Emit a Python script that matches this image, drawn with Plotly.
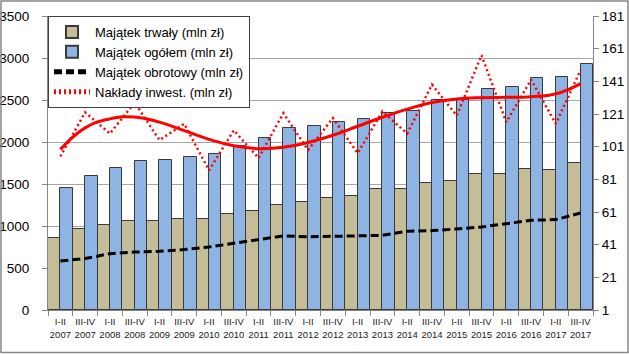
import plotly.graph_objects as go

periods = ["I-II", "III-IV"] * 11
years = [str(y) for y in range(2007, 2018) for _ in range(2)]
categories = [f"{p}<br>{y}" for p, y in zip(periods, years)]

majatek_trwaly = [862, 961, 1008, 1056, 1060, 1087, 1080, 1147, 1182, 1254, 1290,
                  1338, 1362, 1437, 1445, 1516, 1530, 1615, 1615, 1673, 1665, 1745]
majatek_ogolem = [1457, 1600, 1695, 1778, 1790, 1826, 1853, 1955, 2042, 2161, 2185,
                  2242, 2272, 2340, 2369, 2496, 2505, 2627, 2651, 2762, 2778, 2929]
majatek_obrotowy = [583, 612, 671, 690, 699, 719, 750, 790, 838, 881, 873,
                    877, 881, 889, 937, 945, 965, 988, 1028, 1068, 1076, 1155]
naklady = [95, 122, 109, 128, 105, 115, 86.5, 111, 94, 121.5, 99,
           118.5, 97, 122.5, 109, 139, 120, 157, 116, 142, 115, 148]
naklady_trend = [99.2, 112.5, 118.0, 119.2, 116.0, 110.8, 105.5, 101.6, 99.8, 100.6, 103.6,
                 108.0, 113.5, 119.0, 124.0, 128.0, 130.2, 131.0, 131.2, 131.6, 133.3, 139.6]

TAN = "#C4BD97"
BLUE = "#8EB4E3"
EDGE = "#3A3A3A"
FONT = "Liberation Sans"

fig = go.Figure()
fig.add_trace(go.Bar(x=categories, y=majatek_trwaly, name="Majątek trwały (mln zł)",
                     marker=dict(color=TAN, line=dict(color=EDGE, width=1))))
fig.add_trace(go.Bar(x=categories, y=majatek_ogolem, name="Majątek ogółem (mln zł)",
                     marker=dict(color=BLUE, line=dict(color=EDGE, width=1))))
fig.add_trace(go.Scatter(x=categories, y=majatek_obrotowy, name="Majątek obrotowy (mln zł)",
                         mode="lines", line=dict(color="black", width=3, dash="8px,4px")))
fig.add_trace(go.Scatter(x=categories, y=naklady, name="Nakłady inwest. (mln zł)",
                         mode="lines", yaxis="y2",
                         line=dict(color="#FF0000", width=2.5, dash="2px,3px")))
fig.add_trace(go.Scatter(x=categories, y=naklady_trend, name="trend", showlegend=False,
                         mode="lines", yaxis="y2",
                         line=dict(color="#FF0000", width=3, shape="spline", smoothing=1.3)))

L, R, T, B = 48, 36, 16, 44
W, H = 629 - L - R, 354 - T - B

def px_x(p):
    return (p - L) / W

def px_y(p):
    return (354 - B - p) / H

fig.update_layout(
    width=629, height=354,
    margin=dict(l=L, r=R, t=T, b=B, autoexpand=False),
    paper_bgcolor="white", plot_bgcolor="white",
    barmode="group", bargap=0, bargroupgap=0,
    font=dict(family=FONT, color="black"),
    showlegend=True,
    legend=dict(x=0, y=1, xanchor="left", yanchor="top",
                bgcolor="white", bordercolor="#404040", borderwidth=1,
                font=dict(size=13, family=FONT, color="black"),
                itemwidth=36, tracegroupgap=0, traceorder="normal",
                itemsizing="constant"),
    xaxis=dict(type="category", tickson="boundaries", ticks="outside", ticklen=5,
               tickcolor="#868686", showline=True, linecolor="#868686", linewidth=1,
               showgrid=False, tickangle=0, ticklabelstandoff=3, automargin=False,
               tickfont=dict(size=9.5, family=FONT, color="#1a1a1a")),
    yaxis=dict(range=[0, 3500], dtick=500, tick0=0, ticks="outside", ticklen=5,
               tickcolor="#868686", showline=True, linecolor="#868686", linewidth=1,
               showgrid=True, gridcolor="#A6A6A6", gridwidth=1, zeroline=False,
               tickfont=dict(size=13.5, family=FONT, color="black"),
               ticklabelstandoff=10, automargin=False),
    yaxis2=dict(range=[1, 181], tickvals=list(range(1, 182, 20)), overlaying="y",
                side="right", ticks="outside", ticklen=5, tickcolor="#868686",
                showline=True, linecolor="#868686", linewidth=1, showgrid=False,
                zeroline=False, automargin=False,
                tickfont=dict(size=13.5, family=FONT, color="black")),
    shapes=[dict(type="rect", xref="paper", yref="paper",
                 x0=px_x(1), x1=px_x(628), y0=px_y(352.5), y1=px_y(1),
                 line=dict(color="#868686", width=1.5), fillcolor="rgba(0,0,0,0)",
                 layer="above")],
)

fig.write_html("out.html")
